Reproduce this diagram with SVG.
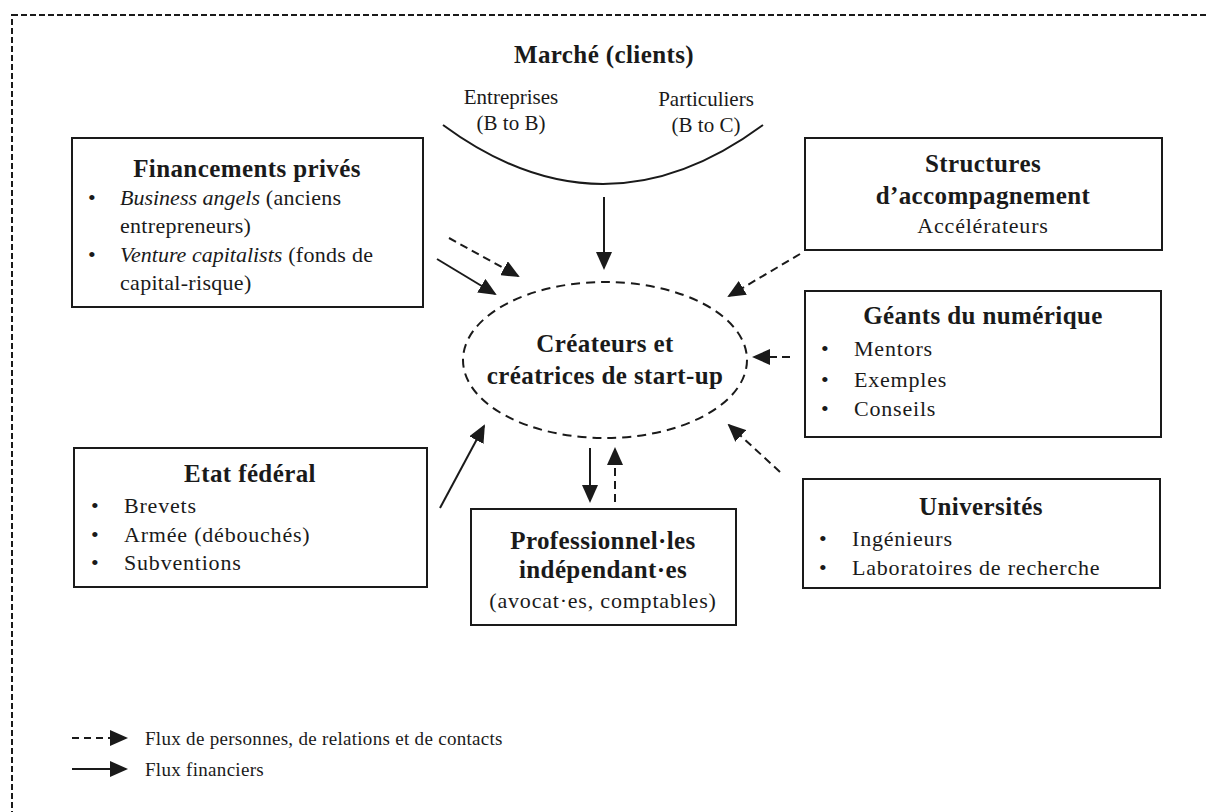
<svg xmlns="http://www.w3.org/2000/svg" width="1206" height="812" viewBox="0 0 1206 812">
<style>
  text { font-family: "Liberation Serif", "DejaVu Serif", serif; fill: #1a1a1a; }
  .t { font-size: 25px; font-weight: bold; text-anchor: middle; letter-spacing: 0.4px; }
  .b { font-size: 22px; letter-spacing: 0.8px; }
  .s { font-size: 21px; letter-spacing: 0; }
  .c { text-anchor: middle; }
  .box { fill: #fff; stroke: #1a1a1a; stroke-width: 2; }
  .sol { stroke: #1a1a1a; stroke-width: 2; fill: none; marker-end: url(#ah); }
  .dash { stroke: #1a1a1a; stroke-width: 2; fill: none; stroke-dasharray: 8 5; marker-end: url(#ah); }
  .lg { font-size: 19px; letter-spacing: 0.3px; }
</style>
<defs>
  <marker id="ah" markerUnits="userSpaceOnUse" markerWidth="18" markerHeight="16" viewBox="0 0 18 16" refX="16" refY="8" orient="auto">
    <path d="M0,0 L18,8 L0,16 Z" fill="#1a1a1a"/>
  </marker>
</defs>
<rect x="12" y="15" width="1210" height="820" fill="none" stroke="#1a1a1a" stroke-width="2" stroke-dasharray="6 3"/>

<g id="marche">
  <text class="t" x="604" y="63">Marché (clients)</text>
  <text class="s c" x="511" y="104">Entreprises</text>
  <text class="s c" x="511" y="130">(B to B)</text>
  <text class="s c" x="706" y="106">Particuliers</text>
  <text class="s c" x="706" y="132">(B to C)</text>
  <path d="M443,125 Q603,243 763,125" fill="none" stroke="#1a1a1a" stroke-width="2"/>
</g>

<g id="financements">
  <rect class="box" x="72" y="138" width="351" height="169"/>
  <text class="t" x="247" y="177">Financements privés</text>
  <text class="b" x="88" y="205">•</text>
  <text class="b" x="120" y="205" style="letter-spacing:0.3px"><tspan font-style="italic" style="letter-spacing:0">Business angels</tspan> (anciens</text>
  <text class="b" x="120" y="233" style="letter-spacing:0.3px">entrepreneurs)</text>
  <text class="b" x="88" y="262">•</text>
  <text class="b" x="120" y="262" style="letter-spacing:0.3px"><tspan font-style="italic" style="letter-spacing:0">Venture capitalists</tspan> (fonds de</text>
  <text class="b" x="120" y="290" style="letter-spacing:0.3px">capital-risque)</text>
</g>

<g id="structures">
  <rect class="box" x="805" y="138" width="357" height="112"/>
  <text class="t" x="983" y="172">Structures</text>
  <text class="t" x="983" y="204">d’accompagnement</text>
  <text class="b c" x="983" y="233">Accélérateurs</text>
</g>

<g id="geants">
  <rect class="box" x="805" y="291" width="356" height="146"/>
  <text class="t" x="983" y="324">Géants du numérique</text>
  <text class="b" x="821" y="356">•</text>
  <text class="b" x="854" y="356">Mentors</text>
  <text class="b" x="821" y="387">•</text>
  <text class="b" x="854" y="387">Exemples</text>
  <text class="b" x="821" y="416">•</text>
  <text class="b" x="854" y="416">Conseils</text>
</g>

<g id="createurs">
  <ellipse cx="605" cy="360" rx="142" ry="78" fill="none" stroke="#1a1a1a" stroke-width="2" stroke-dasharray="9 6"/>
  <text class="t" x="605" y="352">Créateurs et</text>
  <text class="t" x="605" y="384">créatrices de start-up</text>
</g>

<g id="etat">
  <rect class="box" x="74" y="448" width="353" height="139"/>
  <text class="t" x="250" y="482">Etat fédéral</text>
  <text class="b" x="91" y="513">•</text>
  <text class="b" x="124" y="513">Brevets</text>
  <text class="b" x="91" y="542">•</text>
  <text class="b" x="124" y="542">Armée (débouchés)</text>
  <text class="b" x="91" y="570">•</text>
  <text class="b" x="124" y="570">Subventions</text>
</g>

<g id="professionnels">
  <rect class="box" x="471" y="509" width="265" height="116"/>
  <text class="t" x="603" y="549">Professionnel·les</text>
  <text class="t" x="603" y="578">indépendant·es</text>
  <text class="b c" x="603" y="608">(avocat·es, comptables)</text>
</g>

<g id="universites">
  <rect class="box" x="803" y="479" width="357" height="109"/>
  <text class="t" x="981" y="515">Universités</text>
  <text class="b" x="819" y="546">•</text>
  <text class="b" x="852" y="546">Ingénieurs</text>
  <text class="b" x="819" y="575">•</text>
  <text class="b" x="852" y="575">Laboratoires de recherche</text>
</g>

<g id="connectors">
  <line class="sol" x1="604" y1="197" x2="604" y2="268"/>
  <line class="dash" x1="449" y1="238" x2="518" y2="276"/>
  <line class="sol" x1="437" y1="259" x2="495" y2="294"/>
  <line class="dash" x1="800" y1="254" x2="729" y2="296"/>
  <line class="dash" x1="790" y1="357" x2="754" y2="357"/>
  <line class="dash" x1="780" y1="472" x2="729" y2="425"/>
  <line class="sol" x1="440" y1="508" x2="484" y2="426"/>
  <line class="sol" x1="590" y1="448" x2="590" y2="501"/>
  <line class="dash" x1="615" y1="502" x2="615" y2="449"/>
</g>

<g id="legend">
  <line class="dash" x1="72" y1="738" x2="126" y2="738" style="stroke-dasharray: 7 5"/>
  <text class="lg" x="145" y="745">Flux de personnes, de relations et de contacts</text>
  <line class="sol" x1="72" y1="769" x2="126" y2="769"/>
  <text class="lg" x="145" y="776">Flux financiers</text>
</g>
</svg>
